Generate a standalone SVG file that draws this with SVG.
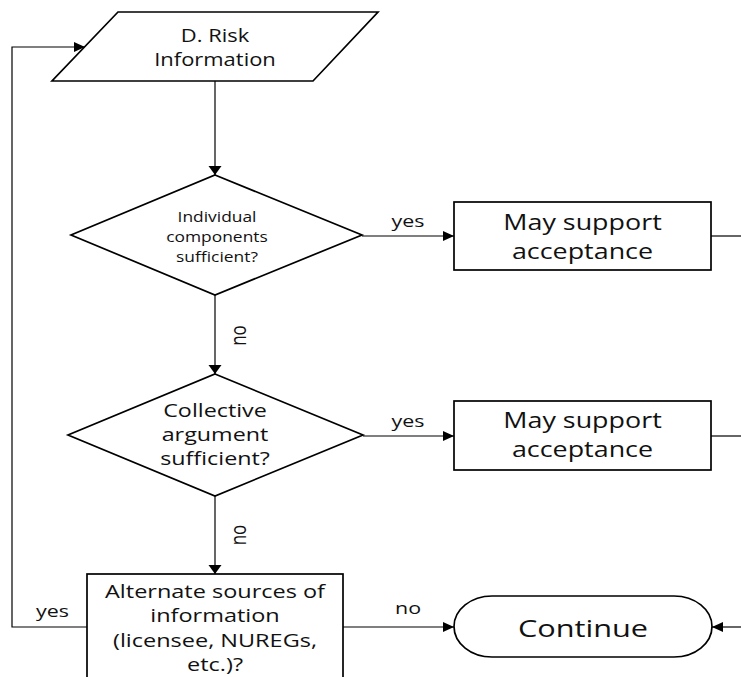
<svg xmlns="http://www.w3.org/2000/svg" width="741" height="677" viewBox="0 0 741 677">
<defs>
<style>
.shape{fill:#fff;stroke:#000;stroke-width:1.7}
.conn{fill:none;stroke:#000;stroke-width:1.2}
.t{font-family:"Open Sans","Liberation Sans",sans-serif;fill:#111;text-anchor:middle}
</style>
<marker id="ah" markerUnits="userSpaceOnUse" markerWidth="12" markerHeight="12" viewBox="0 -6 12 12" refX="11" refY="0" orient="auto">
<path d="M0,-5 L11,0 L0,5 Z" fill="#000"/>
</marker>
<marker id="av" markerUnits="userSpaceOnUse" markerWidth="14" markerHeight="14" viewBox="0 -7 10 14" refX="9" refY="0" orient="auto">
<path d="M0,-6.5 L9,0 L0,6.5 Z" fill="#000"/>
</marker>
</defs>
<rect width="741" height="677" fill="#fff"/>

<g id="connectors">
<line class="conn" x1="215" y1="81" x2="215" y2="175" marker-end="url(#av)"/>
<line class="conn" x1="362" y1="236" x2="454" y2="236" marker-end="url(#ah)"/>
<line class="conn" x1="711" y1="236" x2="741" y2="236"/>
<line class="conn" x1="215" y1="295" x2="215" y2="374" marker-end="url(#av)"/>
<line class="conn" x1="363" y1="436" x2="454" y2="436" marker-end="url(#ah)"/>
<line class="conn" x1="711" y1="436" x2="741" y2="436"/>
<line class="conn" x1="215" y1="496" x2="215" y2="574" marker-end="url(#av)"/>
<polyline class="conn" points="87,627 12,627 12,47 85,47" marker-end="url(#ah)"/>
<line class="conn" x1="343" y1="627" x2="454" y2="627" marker-end="url(#ah)"/>
<line class="conn" x1="741" y1="627" x2="712" y2="627" marker-end="url(#ah)"/>
<text class="t" font-size="17" transform="translate(408 227) scale(1.26 1)">yes</text>
<text class="t" font-size="17" transform="translate(408 427) scale(1.26 1)">yes</text>
<text class="t" font-size="17" transform="translate(52.5 617) scale(1.26 1)">yes</text>
<text class="t" font-size="17" transform="translate(408 614) scale(1.26 1)">no</text>
<text class="t" font-size="17" transform="translate(246 335.5) rotate(-90) scale(1 1.27)">no</text>
<text class="t" font-size="17" transform="translate(246 535) rotate(-90) scale(1 1.27)">no</text>
</g>

<g id="risk-info">
<polygon class="shape" points="118,12 378,12 313,81 52,81"/>
<text class="t" font-size="18" transform="translate(215 42) scale(1.22 1)">D. Risk</text>
<text class="t" font-size="18" transform="translate(215 66) scale(1.22 1)">Information</text>
</g>

<g id="individual">
<polygon class="shape" points="215,175 362,235 215,295 71,235"/>
<text class="t" font-size="14.5" transform="translate(217 221.7) scale(1.2 1)">Individual</text>
<text class="t" font-size="14.5" transform="translate(217 241.7) scale(1.2 1)">components</text>
<text class="t" font-size="14.5" transform="translate(217 261.7) scale(1.2 1)">sufficient?</text>
</g>

<g id="support1">
<rect class="shape" x="454" y="202" width="257" height="68"/>
<text class="t" font-size="21" transform="translate(582.5 230) scale(1.28 1)">May support</text>
<text class="t" font-size="21" transform="translate(582.5 259) scale(1.28 1)">acceptance</text>
</g>

<g id="collective">
<polygon class="shape" points="215,374 363,435 215,496 68,435"/>
<text class="t" font-size="18.5" transform="translate(215 417) scale(1.26 1)">Collective</text>
<text class="t" font-size="18.5" transform="translate(215 441) scale(1.26 1)">argument</text>
<text class="t" font-size="18.5" transform="translate(215 465) scale(1.26 1)">sufficient?</text>
</g>

<g id="support2">
<rect class="shape" x="454" y="401" width="257" height="69"/>
<text class="t" font-size="21" transform="translate(582.5 428) scale(1.28 1)">May support</text>
<text class="t" font-size="21" transform="translate(582.5 457) scale(1.28 1)">acceptance</text>
</g>

<g id="alternate">
<rect class="shape" x="87" y="574" width="256" height="120"/>
<text class="t" font-size="18.5" transform="translate(215 597.7) scale(1.27 1)">Alternate sources of</text>
<text class="t" font-size="18.5" transform="translate(215 621.7) scale(1.27 1)">information</text>
<text class="t" font-size="18.5" transform="translate(215 646.7) scale(1.27 1)">(licensee, NUREGs,</text>
<text class="t" font-size="18.5" transform="translate(215 671) scale(1.27 1)">etc.)?</text>
</g>

<g id="continue">
<rect class="shape" x="454" y="596" width="258" height="61" rx="38" ry="30.5"/>
<text class="t" font-size="24" transform="translate(583 637) scale(1.28 1)">Continue</text>
</g>
</svg>
